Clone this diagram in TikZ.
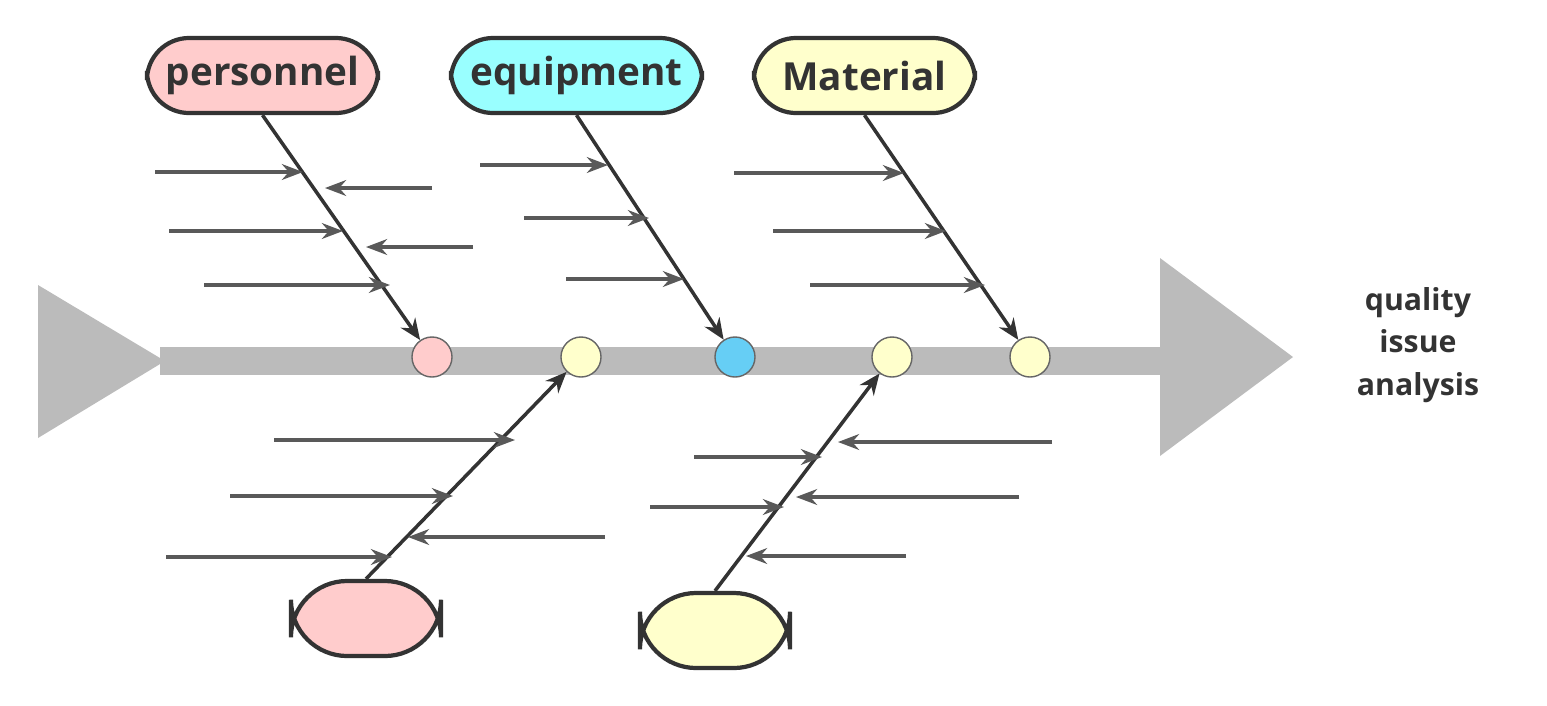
\documentclass[tikz,border=0pt]{standalone}
\usepackage{fontspec}
\setmainfont{Open Sans}
\usetikzlibrary{arrows.meta}
\definecolor{pinkfill}{HTML}{FFCCCC}
\definecolor{cyanfill}{HTML}{99FFFF}
\definecolor{yellowfill}{HTML}{FFFFCC}
\definecolor{spinegray}{HTML}{BBBBBB}
\tikzset{
  cause/.style={draw=black!80, line width=1.2pt, rounded corners=12pt, minimum height=0.75cm, font=\fontsize{11}{13}\selectfont\bfseries, text=black!80},
  joint/.style={circle, draw=black!60, minimum size=0.4cm, inner sep=0pt},
  main/.style={draw=black!80, line width=1pt, -{Stealth[length=6pt,width=5pt]}},
  twig/.style={draw=black!65, line width=0.9pt, -{Stealth[length=6pt,width=4.5pt]}}
}
\begin{document}
\begin{tikzpicture}[x=0.01cm,y=-0.01cm]
    \useasboundingbox (0,0) rectangle (1547,705);

    % spine
    \fill [spinegray] (160,347) rectangle (1162,375);
    \fill [spinegray] (38,285) -- (165,361) -- (38,438) -- cycle;
    \fill [spinegray] (1160,258) -- (1293,357) -- (1160,456) -- cycle;
    \node [align=center, font=\fontsize{8.6}{12}\selectfont\bfseries, text=black!80] (effect) at (1418,345) {quality\\issue\\analysis};

    % joints
    \node [joint, fill=pinkfill] (c1) at (432,357) {};
    \node [joint, fill=yellowfill] (c2) at (581,357) {};
    \node [joint, fill=cyan!60] (c3) at (735,357) {};
    \node [joint, fill=yellowfill] (c4) at (892,357) {};
    \node [joint, fill=yellowfill] (c5) at (1030,357) {};

    % causes
    \node [cause, fill=pinkfill, minimum width=2.31cm] (personnel) at (262.5,75.5) {personnel};
    \node [cause, fill=cyanfill, minimum width=2.51cm] (equipment) at (576.5,75.5) {equipment};
    \node [cause, fill=yellowfill, minimum width=2.21cm] (material) at (864.5,75.5) {Material};
    \node [cause, fill=pinkfill, minimum width=1.5cm, rounded corners=16pt] (low1) at (366,618.5) {};
    \node [cause, fill=yellowfill, minimum width=1.5cm, rounded corners=16pt] (low2) at (715,630.5) {};

    % bones
    \draw [main] (personnel.south) -- (c1);
    \draw [main] (equipment.south) -- (c3);
    \draw [main] (material.south) -- (c5);
    \draw [main] (low1.north) -- (c2);
    \draw [main] (low2.north) -- (c4);

    % sub causes
    \foreach \xa/\xb/\yy in {155/303/172, 432/325/188, 169/343/231, 473/366/247, 204/390/285,
        480/608/165, 524/649/218, 566/684/279,
        734/904/173, 773/946/231, 810/985/285,
        274/515/440, 230/453/496, 605/408/537, 166/392/557,
        1052/838/442, 694/822/457, 1019/796/497, 650/784/507, 906/746/556}
      \draw [twig] (\xa,\yy) -- (\xb,\yy);
\end{tikzpicture}
\end{document}
